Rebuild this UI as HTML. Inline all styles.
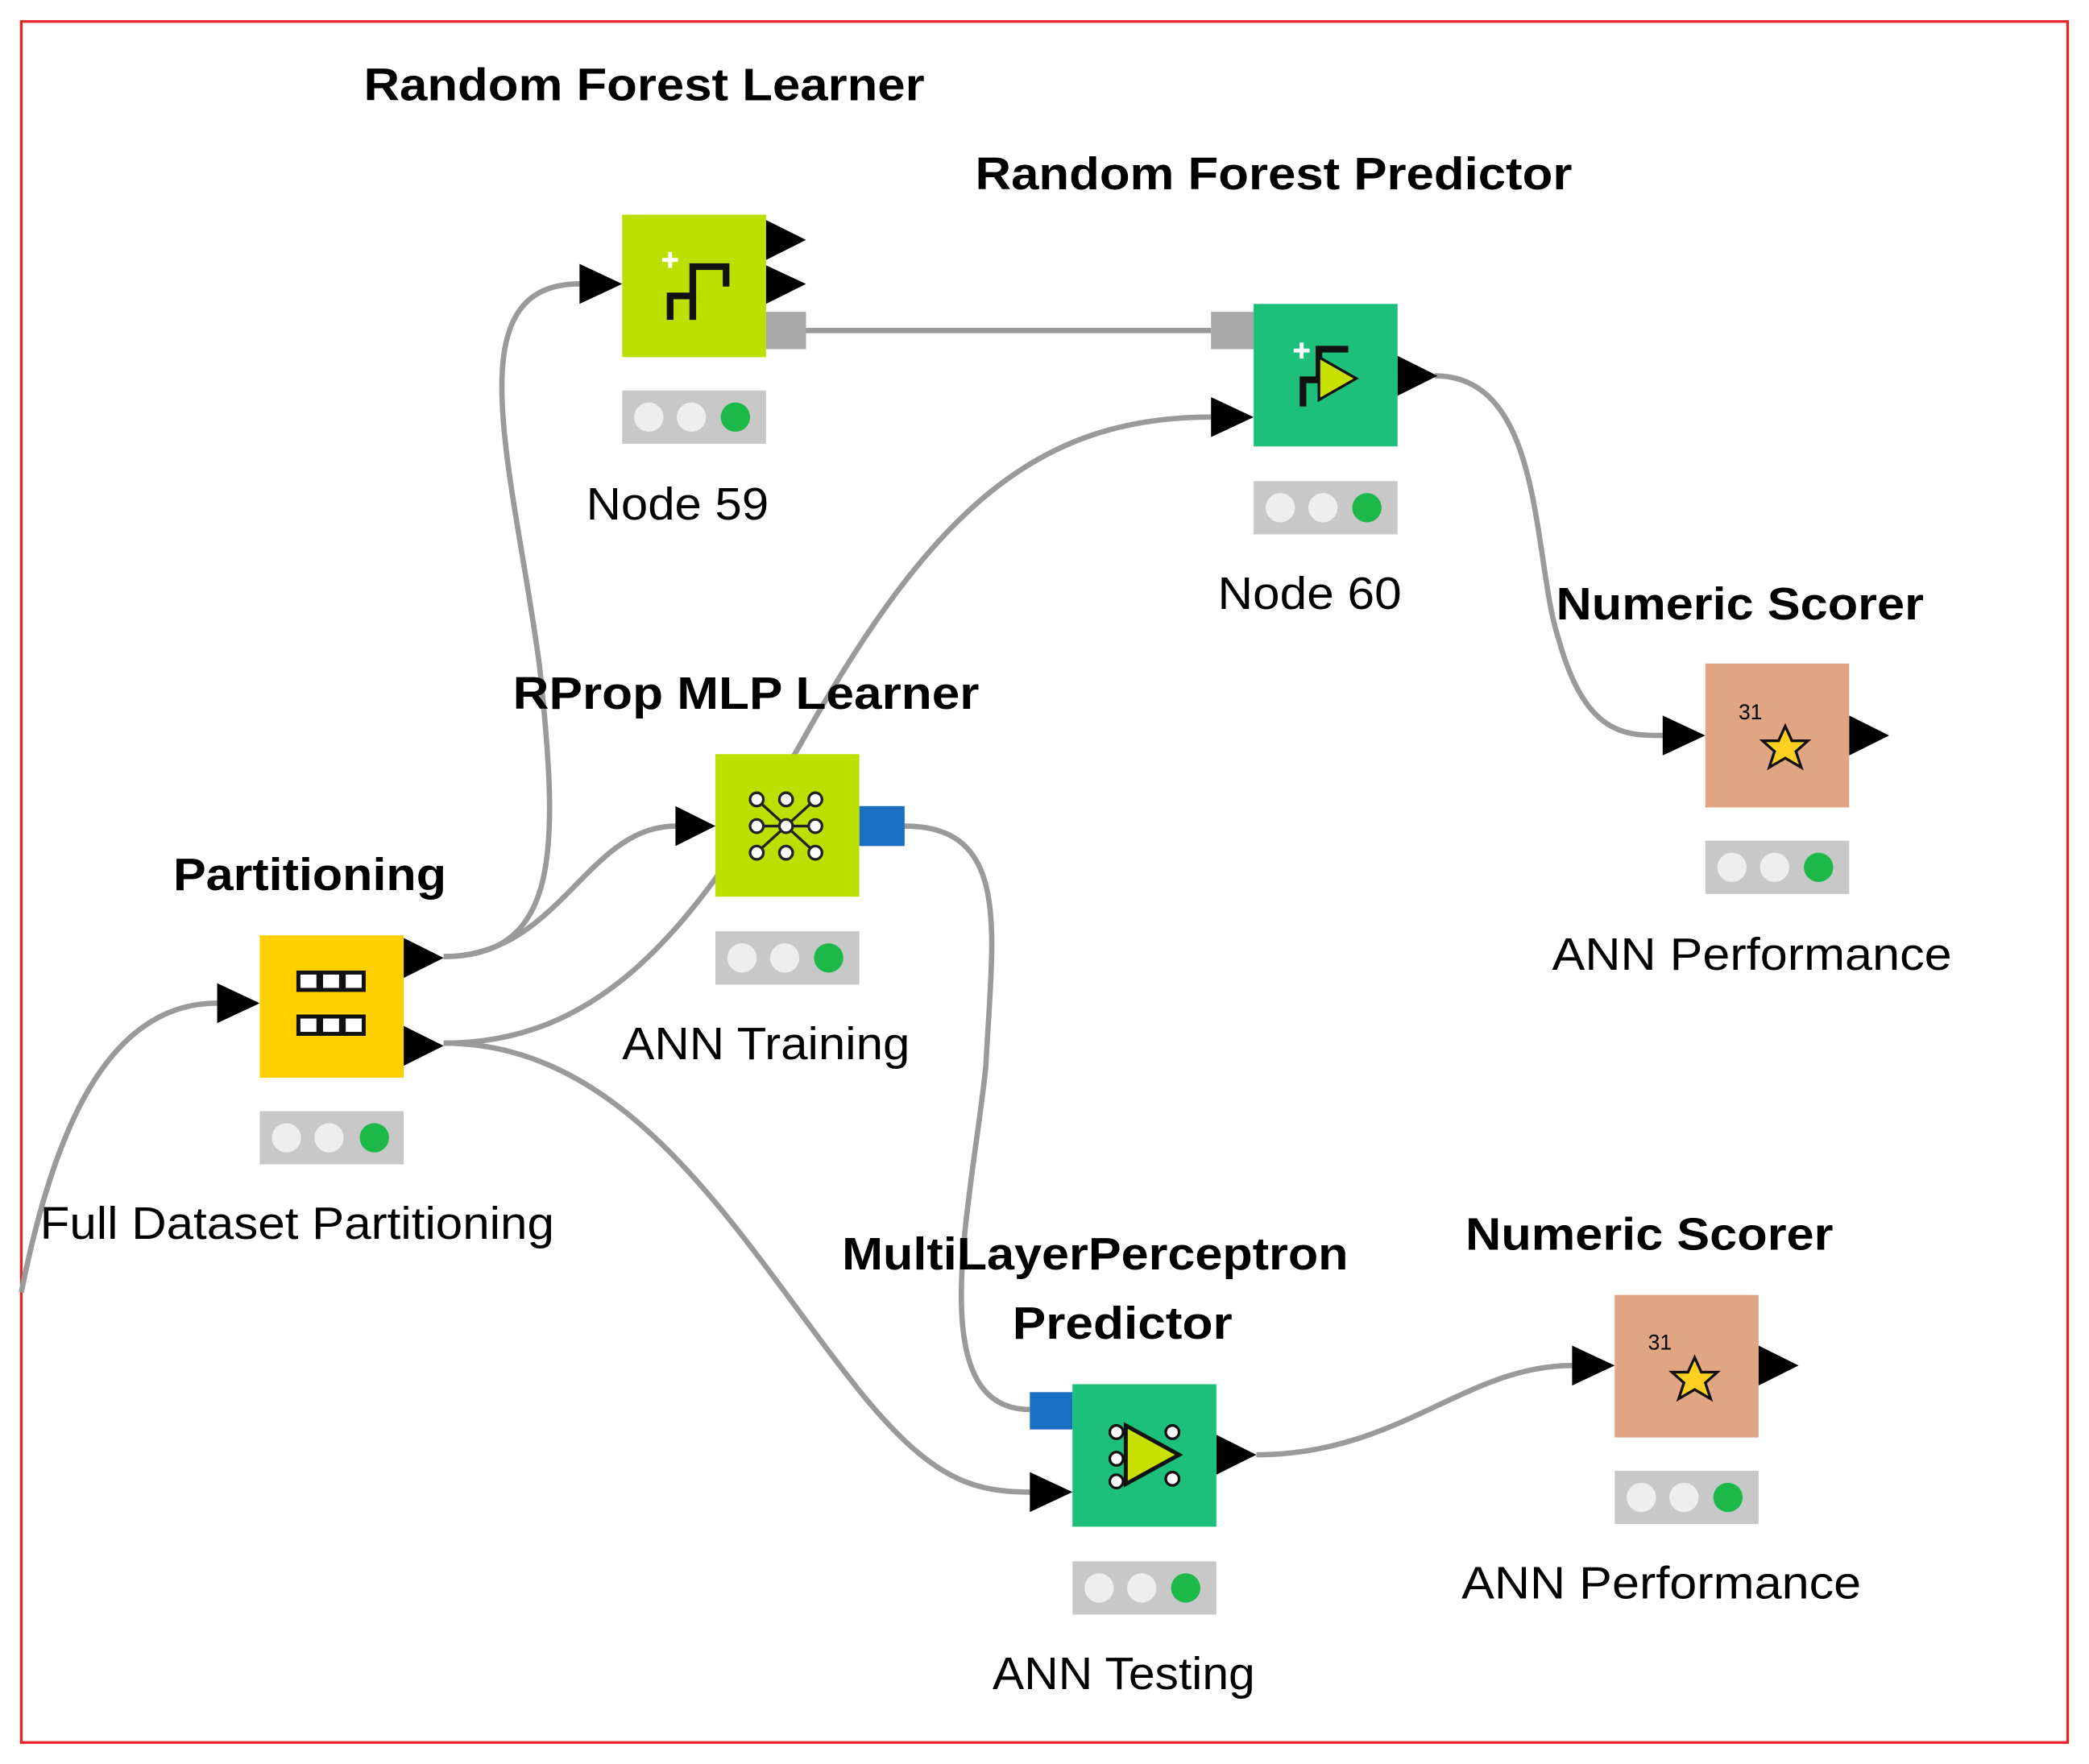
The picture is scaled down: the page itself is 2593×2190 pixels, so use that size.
<!DOCTYPE html>
<html><head><meta charset="utf-8"><style>html,body{margin:0;padding:0;background:#fff}svg{display:block}</style></head>
<body>
<svg xmlns="http://www.w3.org/2000/svg" width="2593" height="2190" viewBox="0 0 1568 1324">
<rect x="0" y="0" width="1568" height="1324" fill="#fff"/>
<rect x="16" y="16" width="1536" height="1292" fill="none" stroke="#e8262a" stroke-width="2"/>
<g fill="none" stroke="#9a9a9a" stroke-width="4">
<path d="M16 970 C 40 850, 80 753, 163 753"/>
<path d="M333 718 C 420 718 420 640 405 500 C 385 350 340 213 435 213"/>
<path d="M333 718 C 420 718 440 620 507 620"/>
<path d="M333 783 C 450 783 520 700 600 560 C 700 380 780 313 909 313"/>
<path d="M333 783 C 480 783 560 940 650 1050 C 700 1110 730 1120 773 1120"/>
<path d="M605 248 L909 248"/>
<path d="M1077 282 C 1160 282 1150 420 1170 480 C 1190 552 1220 552 1248 552"/>
<path d="M679 620 C 760 620 745 700 740 800 C 730 900 690 1058 773 1058"/>
<path d="M943 1092 C 1050 1092 1100 1025 1180 1025"/>
</g>
<g fill="#000">
<polygon points="575,165 605,180 575,195"/><polygon points="575,199 605,213 575,228"/>
<polygon points="435,198 467,213 435,228"/>
<polygon points="909,298 941,313 909,328"/><polygon points="1049,267 1079,282 1049,297"/>
<polygon points="1248,537 1280,552 1248,567"/><polygon points="1388,537 1418,552 1388,567"/>
<polygon points="507,605 537,620 507,635"/>
<polygon points="163,738 195,753 163,768"/><polygon points="303,704 333,719 303,734"/><polygon points="303,770 333,785 303,800"/>
<polygon points="773,1105 805,1120 773,1135"/><polygon points="913,1077 943,1092 913,1107"/>
<polygon points="1180,1010 1212,1025 1180,1040"/><polygon points="1320,1010 1350,1025 1320,1040"/>
</g>
<rect x="575" y="234" width="30" height="28" fill="#a8a8a8"/>
<rect x="909" y="234" width="32" height="28" fill="#a8a8a8"/>
<rect x="645" y="605" width="34" height="30" fill="#1a6fc2"/>
<rect x="773" y="1045" width="32" height="28" fill="#1a6fc2"/>
<rect x="467" y="161" width="108" height="107" fill="#bbe000"/>
<rect x="941" y="228" width="108" height="107" fill="#1cc07a"/>
<rect x="1280" y="498" width="108" height="108" fill="#e0a582"/>
<rect x="537" y="566" width="108" height="107" fill="#bbe000"/>
<rect x="195" y="702" width="108" height="107" fill="#ffd000"/>
<rect x="805" y="1039" width="108" height="107" fill="#1cc07a"/>
<rect x="1212" y="972" width="108" height="107" fill="#e0a582"/>
<g fill="none" stroke="#111" stroke-width="5">
<path d="M503 240 L503 222 L520 222 L520 200 L545 200 L545 215"/><path d="M520 222 L520 240"/>
<path d="M978 305 L978 285 L990 285 L990 262 L1012 262"/>
</g>
<path d="M497 195 h12 M503 189 v12" stroke="#fff" stroke-width="3"/>
<path d="M971 263 h12 M977 257 v12" stroke="#fff" stroke-width="3"/>
<polygon points="990,268 1018,284 990,300" fill="#c8e000" stroke="#111" stroke-width="2"/>
<g fill="#fff" stroke="#111" stroke-width="3">
<rect x="224" y="730" width="15" height="13"/><rect x="241" y="730" width="15" height="13"/><rect x="258" y="730" width="15" height="13"/>
<rect x="224" y="763" width="15" height="13"/><rect x="241" y="763" width="15" height="13"/><rect x="258" y="763" width="15" height="13"/>
</g>
<g stroke="#222" stroke-width="2" fill="#fff">
<path d="M568 600 L612 640 M568 640 L612 600 M568 620 L612 620" fill="none"/>
<circle cx="568" cy="600" r="5"/><circle cx="568" cy="620" r="5"/><circle cx="568" cy="640" r="5"/>
<circle cx="590" cy="600" r="5"/><circle cx="590" cy="620" r="5"/><circle cx="590" cy="640" r="5"/>
<circle cx="612" cy="600" r="5"/><circle cx="612" cy="620" r="5"/><circle cx="612" cy="640" r="5"/>
</g>
<polygon points="845,1070 885,1092 845,1114" fill="#c8e000" stroke="#111" stroke-width="3"/>
<g fill="#fff" stroke="#111" stroke-width="2"><circle cx="838" cy="1075" r="5"/><circle cx="838" cy="1095" r="5"/><circle cx="838" cy="1112" r="5"/><circle cx="880" cy="1075" r="5"/><circle cx="880" cy="1110" r="5"/></g>
<polygon points="1340,545 1345,556 1357,556 1348,564 1352,576 1340,569 1328,576 1332,564 1323,556 1335,556" fill="#ffd020" stroke="#111" stroke-width="2"/>
<text x="1305" y="540" font-family="Liberation Sans, sans-serif" font-size="16">31</text>
<polygon points="1272,1019 1277,1030 1289,1030 1280,1038 1284,1050 1272,1043 1260,1050 1264,1038 1255,1030 1267,1030" fill="#ffd020" stroke="#111" stroke-width="2"/>
<text x="1237" y="1013" font-family="Liberation Sans, sans-serif" font-size="16">31</text>
<g>
<rect x="467" y="293" width="108" height="40" fill="#c8c8c8"/><circle cx="487" cy="313" r="11" fill="#eee"/><circle cx="519" cy="313" r="11" fill="#eee"/><circle cx="552" cy="313" r="11" fill="#1cb84a"/>
<rect x="941" y="361" width="108" height="40" fill="#c8c8c8"/><circle cx="961" cy="381" r="11" fill="#eee"/><circle cx="993" cy="381" r="11" fill="#eee"/><circle cx="1026" cy="381" r="11" fill="#1cb84a"/>
<rect x="1280" y="631" width="108" height="40" fill="#c8c8c8"/><circle cx="1300" cy="651" r="11" fill="#eee"/><circle cx="1332" cy="651" r="11" fill="#eee"/><circle cx="1365" cy="651" r="11" fill="#1cb84a"/>
<rect x="537" y="699" width="108" height="40" fill="#c8c8c8"/><circle cx="557" cy="719" r="11" fill="#eee"/><circle cx="589" cy="719" r="11" fill="#eee"/><circle cx="622" cy="719" r="11" fill="#1cb84a"/>
<rect x="195" y="834" width="108" height="40" fill="#c8c8c8"/><circle cx="215" cy="854" r="11" fill="#eee"/><circle cx="247" cy="854" r="11" fill="#eee"/><circle cx="281" cy="854" r="11" fill="#1cb84a"/>
<rect x="805" y="1172" width="108" height="40" fill="#c8c8c8"/><circle cx="825" cy="1192" r="11" fill="#eee"/><circle cx="857" cy="1192" r="11" fill="#eee"/><circle cx="890" cy="1192" r="11" fill="#1cb84a"/>
<rect x="1212" y="1104" width="108" height="40" fill="#c8c8c8"/><circle cx="1232" cy="1124" r="11" fill="#eee"/><circle cx="1264" cy="1124" r="11" fill="#eee"/><circle cx="1297" cy="1124" r="11" fill="#1cb84a"/>
</g>
<g font-family="Liberation Sans, sans-serif" font-size="34" font-weight="bold" fill="#000" lengthAdjust="spacingAndGlyphs">
<text x="273" y="75" textLength="421" lengthAdjust="spacingAndGlyphs">Random Forest Learner</text>
<text x="732" y="142" textLength="448" lengthAdjust="spacingAndGlyphs">Random Forest Predictor</text>
<text x="1168" y="465" textLength="276" lengthAdjust="spacingAndGlyphs">Numeric Scorer</text>
<text x="385" y="532" textLength="350" lengthAdjust="spacingAndGlyphs">RProp MLP Learner</text>
<text x="130" y="668" textLength="205" lengthAdjust="spacingAndGlyphs">Partitioning</text>
<text x="632" y="953" textLength="380" lengthAdjust="spacingAndGlyphs">MultiLayerPerceptron</text>
<text x="760" y="1005" textLength="165" lengthAdjust="spacingAndGlyphs">Predictor</text>
<text x="1100" y="938" textLength="276" lengthAdjust="spacingAndGlyphs">Numeric Scorer</text>
</g>
<g font-family="Liberation Sans, sans-serif" font-size="34" fill="#000">
<text x="440" y="390" textLength="137" lengthAdjust="spacingAndGlyphs">Node 59</text>
<text x="914" y="457" textLength="138" lengthAdjust="spacingAndGlyphs">Node 60</text>
<text x="1165" y="728" textLength="300" lengthAdjust="spacingAndGlyphs">ANN Performance</text>
<text x="467" y="795" textLength="216" lengthAdjust="spacingAndGlyphs">ANN Training</text>
<text x="30" y="930" textLength="386" lengthAdjust="spacingAndGlyphs">Full Dataset Partitioning</text>
<text x="745" y="1268" textLength="197" lengthAdjust="spacingAndGlyphs">ANN Testing</text>
<text x="1097" y="1200" textLength="300" lengthAdjust="spacingAndGlyphs">ANN Performance</text>
</g>
</svg>
</body></html>
